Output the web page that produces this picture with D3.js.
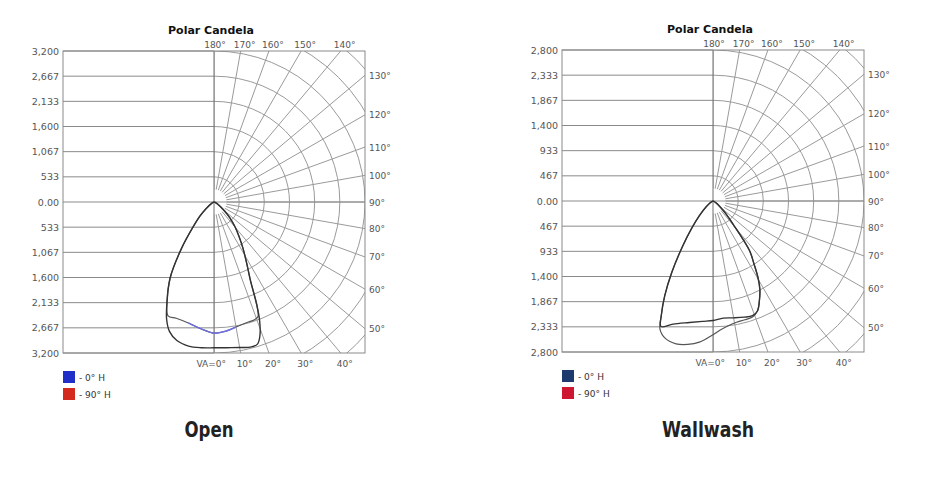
<!DOCTYPE html>
<html>
<head>
<meta charset="utf-8">
<title>Polar Candela - Open / Wallwash</title>
<script src="https://d3js.org/d3.v7.min.js"></script>
<style>
  body { margin: 0; background: #fff; }
  svg text { font-family: "DejaVu Sans", Verdana, sans-serif; }
</style>
</head>
<body>
<svg id="chart" width="934" height="484"></svg>
<script>
// candela tick labels, top to bottom of the box
var openTicks = ["3,200","2,667","2,133","1,600","1,067","533","0.00","533","1,067","1,600","2,133","2,667","3,200"];
var washTicks = ["2,800","2,333","1,867","1,400","933","467","0.00","467","933","1,400","1,867","2,333","2,800"];
var openMax = 3200, washMax = 2800;

// angle labels round the box (degrees from nadir)
var topAngles = [180, 170, 160, 150, 140];
var rightAngles = [130, 120, 110, 100, 90, 80, 70, 60, 50];
var bottomAngles = [0, 10, 20, 30, 40];
var gridAngles = [0, 10, 20, 30, 40, 50, 60, 70, 80, 90, 100, 110, 120, 130, 140, 150, 160, 170, 180];
var arcSteps = [1, 2, 3, 4, 5, 6, 7, 8];

var legendLabels = ["- 0° H", "- 90° H"];

// [angle from nadir (left negative), candela]
var open0 = [[-90,0],[-70,20],[-60,60],[-50,220],[-45,420],[-40,690],[-35,1200],[-30,1860],[-25,2360],
  [-22,2680],[-19,2900],[-15,3040],[-10,3100],[-5,3100],[0,3090],[5,3100],[10,3130],[14,3170],[17,3150],
  [19,2990],[21,2700],[22.5,2380],[25,1820],[28,1480],[32,1160],[36,900],[40,700],[45,480],[50,280],
  [60,90],[70,25],[90,0]];
var open90 = [[-90,0],[-70,20],[-60,60],[-50,220],[-45,420],[-40,690],[-35,1200],[-30,1860],[-25,2360],
  [-22,2600],[-18,2590],[-12,2620],[-6,2700],[0,2780],[5,2750],[10,2690],[15,2650],[19,2640],[21,2600],
  [22.5,2380],[25,1820],[28,1480],[32,1160],[36,900],[40,700],[45,480],[50,280],[60,90],[70,25],[90,0]];

var wash0 = [[-90,0],[-70,15],[-60,50],[-50,160],[-43,370],[-38,640],[-34,1000],[-30,1530],[-27,1970],
  [-24.3,2330],[-22.5,2520],[-18,2400],[-11,2295],[-5,2240],[0,2215],[5,2180],[10,2200],[15,2230],
  [19,2250],[22,2200],[25,2036],[28,1850],[30.5,1640],[33,1400],[36.4,1140],[41,560],[45,350],[50,180],
  [60,60],[70,15],[90,0]];
var wash90 = [[-90,0],[-70,15],[-60,50],[-50,160],[-43,370],[-38,640],[-34,1000],[-30,1530],[-27,1970],
  [-24.3,2330],[-22.5,2570],[-19,2700],[-14.5,2735],[-10,2700],[-5.5,2630],[0,2480],[3,2400],[7,2330],
  [11,2290],[15,2280],[19,2270],[22,2200],[25,2036],[28,1850],[30.5,1640],[33,1400],[36.4,1140],[41,560],
  [45,350],[50,180],[60,60],[70,15],[90,0]];

var svg = d3.select("#chart");
var rad = function(d) { return d * Math.PI / 180; };

function drawPanel(cfg) {
  var g = svg.append("g");
  var cx = cfg.cx, cy = cfg.cy, half = cfg.half;
  var left = cx - half, right = cx + half, top = cy - half, bottom = cy + half;

  var y = d3.scalePoint().domain(d3.range(cfg.ticks.length)).range([top, bottom]);
  var r = d3.scaleLinear().domain([0, cfg.max]).range([0, half]);
  var step = cfg.max / 6;

  // where a ray at angle a hits the box
  function hit(a) {
    var s = Math.sin(rad(a)), c = Math.cos(rad(a));
    var t = Math.min(Math.abs(s) < 1e-9 ? 1e9 : half / Math.abs(s), Math.abs(c) < 1e-9 ? 1e9 : half / Math.abs(c));
    return [cx + s * t, cy + c * t];
  }

  // left half: horizontal lines
  g.selectAll("line.h").data(cfg.ticks).enter().append("line")
    .attr("x1", left).attr("x2", cx)
    .attr("y1", function(d, i) { return y(i); }).attr("y2", function(d, i) { return y(i); })
    .attr("stroke", "#8a8a8a").attr("stroke-width", 1);

  g.selectAll("text.tick").data(cfg.ticks).enter().append("text")
    .attr("x", left - 4).attr("y", function(d, i) { return y(i) + 3.5; })
    .attr("text-anchor", "end").attr("font-size", 9.5).attr("fill", "#555")
    .text(function(d) { return d; });

  // right half: polar grid, clipped to box
  g.append("clipPath").attr("id", cfg.id + "-clip").append("rect")
    .attr("x", cx).attr("y", top).attr("width", half).attr("height", 2 * half);
  var grid = g.append("g").attr("clip-path", "url(#" + cfg.id + "-clip)")
    .append("g").attr("transform", "translate(" + cx + "," + cy + ")");

  grid.selectAll("circle").data(arcSteps).enter().append("circle")
    .attr("r", function(k) { return r(k * step); })
    .attr("fill", "none").attr("stroke", "#9a9a9a").attr("stroke-width", 1);

  grid.selectAll("line").data(gridAngles).enter().append("line")
    .attr("x1", function(a) { return Math.sin(rad(a)) * r(step / 2); })
    .attr("y1", function(a) { return Math.cos(rad(a)) * r(step / 2); })
    .attr("x2", function(a) { return Math.sin(rad(a)) * r(cfg.max * 2); })
    .attr("y2", function(a) { return Math.cos(rad(a)) * r(cfg.max * 2); })
    .attr("stroke", "#9a9a9a").attr("stroke-width", 1);

  // centre line and 90° line, box
  g.append("line").attr("x1", cx).attr("x2", cx).attr("y1", top).attr("y2", bottom)
    .attr("stroke", "#6e6e6e").attr("stroke-width", 1);
  g.append("line").attr("x1", cx).attr("x2", right).attr("y1", cy).attr("y2", cy)
    .attr("stroke", "#8a8a8a").attr("stroke-width", 1);
  g.append("rect").attr("x", left).attr("y", top).attr("width", 2 * half).attr("height", 2 * half)
    .attr("fill", "none").attr("stroke", "#8a8a8a").attr("stroke-width", 1);

  // angle labels
  g.selectAll("text.top").data(topAngles).enter().append("text")
    .attr("x", function(a) { return a === 180 ? cx + 1 : hit(a)[0] + 4; })
    .attr("y", top - 3).attr("text-anchor", "middle").attr("font-size", 9).attr("fill", "#555")
    .text(function(a) { return a + "°"; });
  g.selectAll("text.right").data(rightAngles).enter().append("text")
    .attr("x", right + 4).attr("y", function(a) { return hit(a)[1] + 3.5; })
    .attr("font-size", 9).attr("fill", "#555")
    .text(function(a) { return a + "°"; });
  g.selectAll("text.bot").data(bottomAngles).enter().append("text")
    .attr("x", function(a) { return a === 0 ? cx + 12 : hit(a)[0] + 4; })
    .attr("y", bottom + 14)
    .attr("text-anchor", function(a) { return a === 0 ? "end" : "middle"; })
    .attr("font-size", 9).attr("fill", "#555")
    .text(function(a) { return a === 0 ? "VA=0°" : a + "°"; });

  // title
  g.append("text").attr("x", cx - 3).attr("y", top - 17).attr("text-anchor", "middle")
    .attr("font-size", 11).attr("font-weight", "bold").attr("fill", "#111")
    .text("Polar Candela");

  // candela curves
  var line = d3.lineRadial()
    .angle(function(d) { return Math.PI - rad(d[0]); })
    .radius(function(d) { return r(d[1]); })
    .curve(d3.curveCatmullRom);
  var cg = g.append("g").attr("transform", "translate(" + cx + "," + cy + ")");
  cg.append("path").datum(cfg.c90).attr("d", line)
    .attr("fill", "none").attr("stroke", "#555").attr("stroke-width", 1.2);
  cg.append("path").datum(cfg.c0).attr("d", line)
    .attr("fill", "none").attr("stroke", "#333").attr("stroke-width", 1.4);
  if (cfg.blueTint) {
    cg.append("path").datum(cfg.c90.filter(function(d) { return Math.abs(d[0]) <= 12; }))
      .attr("d", line).attr("fill", "none").attr("stroke", "#6f6fe0").attr("stroke-width", 1.4);
  }

  // legend
  var lg = g.append("g").attr("transform", "translate(" + (left) + "," + (bottom + 18) + ")");
  lg.selectAll("rect").data(legendLabels).enter().append("rect")
    .attr("x", 0).attr("y", function(d, i) { return i * 17; })
    .attr("width", 12).attr("height", 12)
    .attr("fill", function(d, i) { return cfg.legendColors[i]; });
  lg.selectAll("text").data(legendLabels).enter().append("text")
    .attr("x", 16).attr("y", function(d, i) { return i * 17 + 10; })
    .attr("font-size", 9).attr("fill", "#333")
    .text(function(d) { return d; });

  // caption, condensed bold
  g.append("text").attr("x", cx - 5).attr("y", 437).attr("text-anchor", "middle")
    .attr("font-size", 21).attr("font-weight", "bold").attr("fill", "#222")
    .style("font-stretch", "condensed")
    .attr("textLength", cfg.captionWidth).attr("lengthAdjust", "spacingAndGlyphs")
    .text(cfg.caption);
}

drawPanel({ id: "open", cx: 214, cy: 202, half: 151, max: openMax, ticks: openTicks,
  c0: open0, c90: open90, blueTint: true, legendColors: ["#1f2fc8", "#d42a1e"],
  caption: "Open", captionWidth: 49 });
drawPanel({ id: "wash", cx: 713, cy: 201, half: 151, max: washMax, ticks: washTicks,
  c0: wash0, c90: wash90, blueTint: false, legendColors: ["#1d3a6e", "#cf1630"],
  caption: "Wallwash", captionWidth: 92 });
</script>
</body>
</html>
